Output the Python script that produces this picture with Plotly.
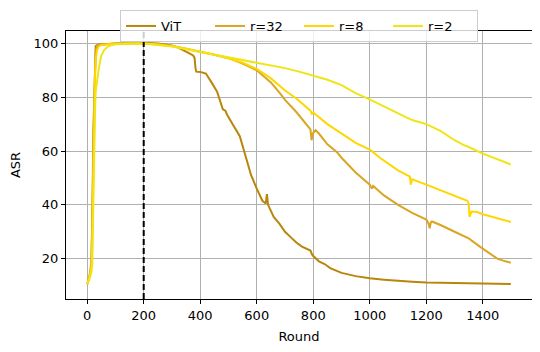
import plotly.graph_objs as go

# ViT
vit_rounds = [0, 5, 10, 15, 18, 20, 22, 25, 28, 30, 35, 40, 50, 75, 100, 150, 200, 250, 280, 300,
              320, 340, 360, 375, 380, 383, 386, 400, 420, 440, 460, 480, 489, 495, 505, 520, 540,
              560, 580, 600, 620, 632, 636, 640, 650, 660, 680, 700, 720, 740, 760, 780, 790, 796,
              800, 820, 840, 860, 880, 900, 950, 1000, 1050, 1100, 1150, 1200, 1250, 1300, 1350,
              1400, 1450, 1499]
vit_asr = [10.5, 12, 14, 17, 30, 47, 65, 84, 95, 99, 99.3, 99.5, 99.6, 99.8, 100, 100.1, 100.2, 100,
           99.6, 99.2, 98.5, 97.6, 96.4, 95.5, 94.6, 91, 89.5, 89.4, 88.8, 85.5, 82, 75.5, 75, 73.5,
           71.5, 69, 65.5, 58, 51, 46, 41.5, 40.5, 44, 40, 37.5, 35.5, 33, 30, 28, 26, 24.5, 23.5, 23,
           21.5, 21, 19, 18, 16.5, 15.5, 14.7, 13.5, 12.7, 12.2, 11.7, 11.4, 11.1, 11, 10.9, 10.8,
           10.7, 10.7, 10.6]

# r=32
r32_rounds = [0, 5, 10, 15, 18, 20, 22, 25, 28, 30, 35, 40, 50, 75, 100, 150, 200, 250, 300, 350,
              400, 450, 500, 550, 600, 650, 684, 700, 740, 778, 790, 794, 798, 808, 820, 850, 885,
              900, 950, 1000, 1008, 1012, 1050, 1100, 1133, 1150, 1200, 1208, 1212, 1216, 1220,
              1250, 1300, 1350, 1392, 1420, 1451, 1480, 1499]
r32_asr = [10.5, 12, 15, 19, 35, 60, 68, 80, 92, 97, 99, 99.4, 99.6, 99.8, 100, 100, 100, 99.7, 99,
           98, 97, 95.8, 94.5, 92.5, 90, 85.5, 81.2, 79, 74.5, 69.5, 68, 64, 66.5, 67.7, 66.5, 62.5,
           59.5, 57.5, 52, 47.5, 46, 47, 43.5, 40, 38, 37, 34.5, 33, 31.3, 33.5, 33.8, 32.5, 30,
           27.5, 24.3, 22.3, 20, 19, 18.5]

# r=8
r8_rounds = [0, 5, 10, 15, 18, 20, 22, 25, 28, 30, 35, 40, 50, 75, 100, 150, 200, 250, 300, 350,
             400, 450, 500, 550, 600, 650, 684, 700, 740, 790, 795, 800, 850, 900, 920, 950, 1003,
             1038, 1100, 1133, 1142, 1145, 1150, 1200, 1250, 1300, 1345, 1350, 1353, 1360, 1380,
             1400, 1450, 1499]
r8_asr = [10.5, 12, 14, 17, 25, 40, 55, 72, 88, 94, 97.5, 98.8, 99.4, 99.7, 99.9, 100, 100, 99.6,
          99, 98, 97, 95.8, 94.5, 92.8, 90.5, 87, 84, 82.5, 79.5, 75, 73.8, 74.3, 70, 66.5, 65.2,
          63, 60.3, 57.3, 52.8, 51, 50.5, 47.5, 49.5, 47.5, 45.5, 43.5, 41.5, 40.5, 35.5, 37.5,
          37.3, 36.5, 35, 33.6]

# r=2
r2_rounds = [0, 5, 10, 15, 18, 20, 22, 25, 28, 30, 35, 40, 45, 50, 60, 75, 100, 150, 200, 250, 300,
             350, 400, 450, 500, 550, 600, 650, 684, 700, 750, 800, 850, 900, 950, 1003, 1050, 1100,
             1133, 1150, 1200, 1250, 1300, 1333, 1350, 1400, 1450, 1499]
r2_asr = [10.5, 11.5, 13, 15, 18, 30, 45, 62, 76, 82, 87, 90, 93, 95.5, 97.5, 99, 99.7, 100, 100,
          99.5, 98.8, 97.8, 96.8, 95.8, 95, 94, 93, 92, 91.3, 90.8, 89.5, 88, 86.5, 84.5, 81.5, 79,
          76.5, 74, 72.3, 71.5, 70, 67.5, 64, 62.2, 61.5, 59, 57, 55]

series = [
    ('ViT', vit_rounds, vit_asr, '#B8860B'),
    ('r=32', r32_rounds, r32_asr, '#DAA520'),
    ('r=8', r8_rounds, r8_asr, '#FFD700'),
    ('r=2', r2_rounds, r2_asr, '#F0E514'),
]

fig = go.Figure()
for name, xs, ys, color in series:
    fig.add_trace(go.Scatter(x=xs, y=ys, mode='lines', name=name,
                             line=dict(color=color, width=2)))

# vertical marker at round 200
fig.add_shape(type='line', x0=200, x1=200, y0=0, y1=1, yref='y domain',
              line=dict(color='black', width=2, dash='6px,3px'))

axis_common = dict(
    showline=True, linecolor='black', linewidth=1, mirror=True,
    showgrid=True, gridcolor='#b0b0b0', gridwidth=0.8,
    ticks='outside', ticklen=4, tickcolor='black',
    zeroline=False, tickfont=dict(size=13, color='black'),
    automargin=False,
)

# page body adds an 8px offset; top margin kept tiny and the axes domain
# shortened so the legend sits inside the paper and does not push margins
fig.update_layout(
    width=540, height=352,
    margin=dict(l=58, r=16, t=2, b=61),
    plot_bgcolor='white', paper_bgcolor='white',
    font=dict(family='DejaVu Sans', size=13, color='black'),
    xaxis=dict(range=[-75, 1574], tickvals=[0, 200, 400, 600, 800, 1000, 1200, 1400],
               title=dict(text='Round', standoff=10, font=dict(size=13)), **axis_common),
    yaxis=dict(range=[5, 104.6], tickvals=[20, 40, 60, 80, 100], domain=[0, 0.9273],
               title=dict(text='ASR', standoff=10, font=dict(size=13)), **axis_common),
    legend=dict(orientation='h', x=0.5, xanchor='center', y=1, yanchor='top',
                bgcolor='rgba(255,255,255,0.8)', bordercolor='#cccccc', borderwidth=1,
                font=dict(size=13), itemwidth=30, entrywidth=44, tracegroupgap=0),
    showlegend=True,
)

fig.write_html("out.html")
